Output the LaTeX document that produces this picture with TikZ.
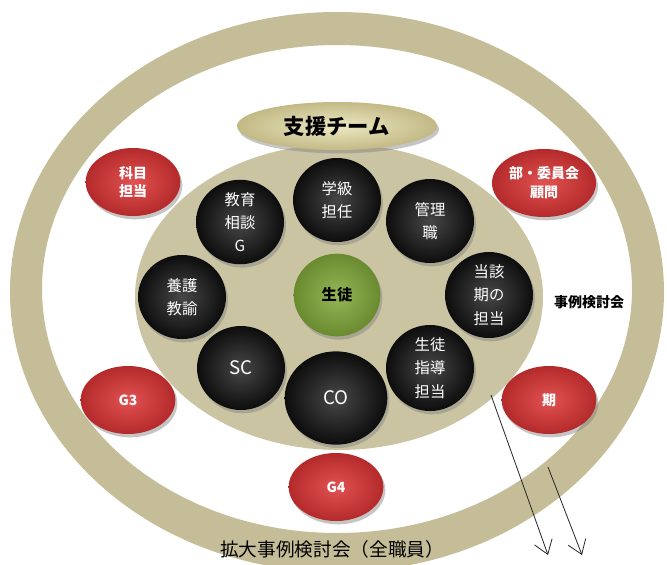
\documentclass[tikz,border=0pt]{standalone}
\usepackage{fontspec}
\setmainfont{Noto Sans CJK JP}
\usetikzlibrary{arrows.meta,shadows,shapes.geometric}
\definecolor{tanring}{HTML}{C4BD97}
\definecolor{taninner}{HTML}{CAC4A3}
\definecolor{tanlight}{HTML}{EEE9C4}
\definecolor{tandark}{HTML}{C2B985}
\definecolor{redin}{HTML}{E25252}
\definecolor{redout}{HTML}{B42A2A}
\definecolor{greenin}{HTML}{95B755}
\definecolor{greenout}{HTML}{6A8A30}
\tikzset{
  ballshadow/.style={drop shadow={opacity=0.45,shadow xshift=1.5pt,shadow yshift=-2.5pt}},
  blackball/.style={ellipse,minimum width=66pt,minimum height=63pt,inner sep=0pt,
    shading=radial,inner color=black!72,outer color=black!95,text=white,align=center,
    font=\fontsize{11.5}{17.5}\selectfont,ballshadow},
  latinball/.style={blackball,font=\fontsize{14}{16}\selectfont},
  redball/.style={ellipse,minimum width=71pt,minimum height=51pt,inner sep=0pt,
    shading=radial,inner color=redin,outer color=redout,text=white,align=center,
    font=\fontsize{10.5}{14}\selectfont\bfseries,ballshadow},
  greenball/.style={ellipse,minimum width=65pt,minimum height=62pt,inner sep=0pt,
    shading=radial,inner color=greenin,outer color=greenout,text=black,
    font=\fontsize{11.5}{13}\selectfont\bfseries,ballshadow},
  teambox/.style={ellipse,minimum width=150pt,minimum height=36pt,inner sep=0pt,
    shading=radial,inner color=tanlight,outer color=tandark,text=black,
    font=\fontsize{16}{18}\selectfont\bfseries,ballshadow},
  plainlabel/.style={text=black,inner sep=1pt},
  flowarrow/.style={-{Straight Barb[length=10pt,width=14pt]},line width=0.6pt,black!85}
}
\begin{document}
\begin{tikzpicture}[x=0.75pt,y=-0.75pt]
\useasboundingbox (0,0) rectangle (667,564);
\clip (0,0) rectangle (667,564);
\fill[white] (0,0) rectangle (667,564);
% outer ring
\fill[tanring,even odd rule] (337,292) ellipse [x radius=327, y radius=280]
                             (337,289) ellipse [x radius=295, y radius=244];
% inner area
\fill[taninner] (339,297) ellipse [x radius=204, y radius=153];
% support team
\node[teambox] (team) at (337,126) {支援チーム};
% black members
\node[blackball] (gakkyu) at (337,200) {学級\\担任};
\node[blackball] (kanri) at (430,221) {管理\\職};
\node[blackball] (kyoiku) at (240,222) {教育\\相談\\G};
\node[blackball] (yogo) at (182,297) {養護\\教諭};
\node[blackball] (toga) at (489,295) {当該\\期の\\担当};
\node[latinball] (sc) at (241,368) {SC};
\node[latinball,minimum width=77pt,minimum height=70pt] (co) at (336,398) {CO};
\node[blackball] (shido) at (430,368) {生徒\\指導\\担当};
\node[greenball] (seito) at (337,295) {生徒};
% red groups
\node[redball] (kamoku) at (133,182) {科目\\担当};
\node[redball,minimum width=78pt] (bu) at (544,183) {部・委員会\\顧問};
\node[redball] (g3) at (128,400) {G3};
\node[redball] (ki) at (549,400) {期};
\node[redball] (g4) at (336,487) {G4};
% labels
\node[plainlabel,font=\fontsize{10.5}{12}\selectfont\bfseries] (jirei) at (589,302) {事例検討会};
\node[plainlabel,font=\fontsize{14}{16}\selectfont] (kakudai) at (332,549) {拡大事例検討会（全職員）};
% arrows
\coordinate (a1s) at (491,395);
\coordinate (a1e) at (548,555);
\coordinate (a2s) at (548,467);
\coordinate (a2e) at (582,555);
\draw[flowarrow] (a1s) -- (a1e);
\draw[flowarrow] (a2s) -- (a2e);
\end{tikzpicture}
\end{document}
